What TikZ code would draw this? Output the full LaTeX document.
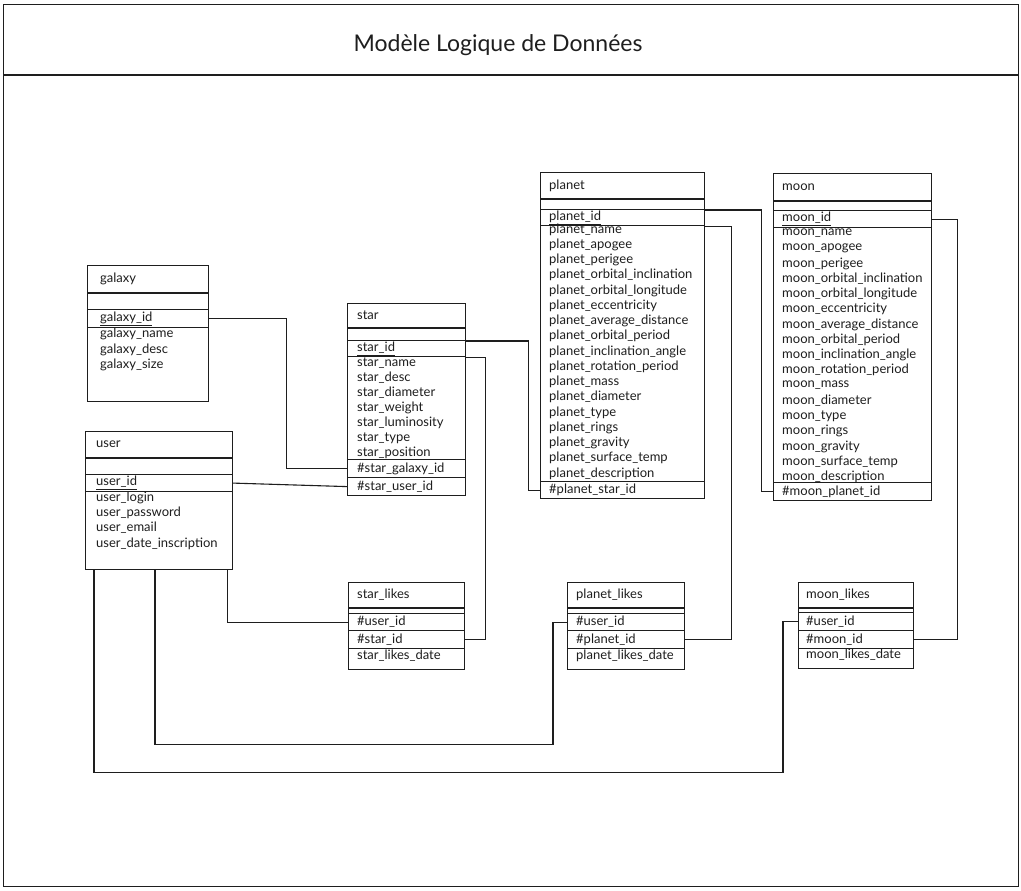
\documentclass[tikz,border=0pt]{standalone}
\usepackage{fontspec}
\setmainfont{Lato}
\begin{document}
\begin{tikzpicture}[x=1pt,y=-1pt]
\definecolor{ink}{HTML}{1E1E1E}
\tikzset{
  tblbox/.style={draw=ink, line width=1.4pt, inner sep=0pt, anchor=north west},
  keybox/.style={draw=ink, line width=1.2pt, inner sep=0pt, anchor=north west},
  hdrline/.style={draw=ink, line width=1.3pt},
  fieldtxt/.style={inner sep=0pt, anchor=west, text=ink, font=\fontsize{13}{14}\selectfont},
  link/.style={draw=ink, line width=1.1pt},
  frame/.style={draw=ink, line width=1.4pt},
}
% table body: name, x, y, width, height, header height, title
\newcommand\TableBox[7]{%
  \node[tblbox, minimum width=#4, minimum height=#5] (#1) at (#2,#3) {};
  \draw[hdrline] ([yshift=-#6]#1.north west) -- ([yshift=-#6]#1.north east);
  \node[fieldtxt] (#1-title) at ([xshift=\padx, yshift=-#6/2]#1.north west) {#7};}
% key row: name, x, y, width, height, text
\newcommand\KeyRow[6]{%
  \node[keybox, minimum width=#4, minimum height=#5] (#1) at (#2,#3) {};
  \node[fieldtxt] (#1-t) at ([xshift=\padx]#1.west) {#6};}

\useasboundingbox (0,0) rectangle (1021,891);
\fill[white] (0,0) rectangle (1021,891);

% page frame and title band
\node[frame, inner sep=0pt, anchor=north west, minimum width=1015, minimum height=882] (page) at (3,4) {};
\draw[frame] ([yshift=-71]page.north west) -- ([yshift=-71]page.north east);
\node[text=ink, font=\fontsize{23}{27}\selectfont] (title) at (498,45) {Modèle Logique de Données};

% galaxy
\def\padx{13pt}
\TableBox{galaxy}{87}{265}{121}{136}{28}{galaxy}
\KeyRow{gid}{87}{309}{121}{18}{\underline{galaxy\_id}}
\node[fieldtxt] (g1) at (100,334) {galaxy\_name};
\node[fieldtxt] (g2) at (100,350) {galaxy\_desc};
\node[fieldtxt] (g3) at (100,365) {galaxy\_size};

% user
\def\padx{11pt}
\TableBox{usr}{85}{431}{147}{138}{27}{user}
\KeyRow{uid}{85}{474}{147}{17}{\underline{user\_id}}
\node[fieldtxt] (u1) at (96,498) {user\_login};
\node[fieldtxt] (u2) at (96,513) {user\_password};
\node[fieldtxt] (u3) at (96,528) {user\_email};
\node[fieldtxt] (u4) at (96,544) {user\_date\_inscription};

% star
\def\padx{10pt}
\TableBox{star}{347}{303}{118}{192}{25}{star}
\KeyRow{sid}{347}{340}{118}{16}{\underline{star\_id}}
\foreach \f [count=\i] in {name,desc,diameter,weight,luminosity,type,position}
  \node[fieldtxt] (s\i) at (357,{363+15*(\i-1)}) {star\_\f};
\KeyRow{sgal}{347}{459}{118}{18}{\#star\_galaxy\_id}
\KeyRow{susr}{347}{477}{118}{18}{\#star\_user\_id}

% planet
\def\padx{9pt}
\TableBox{planet}{540}{172}{164}{326}{27}{planet}
\KeyRow{pid}{540}{209}{164}{16}{\underline{planet\_id}}
\foreach \f [count=\i] in {name,apogee,perigee,orbital\_inclination,orbital\_longitude,eccentricity,average\_distance,orbital\_period,inclination\_angle,rotation\_period,mass,diameter,type,rings,gravity,surface\_temp,description}
  \node[fieldtxt] (p\i) at (549,{229.5+15.25*(\i-1)}) {planet\_\f};
\KeyRow{pfk}{540}{481}{164}{17}{\#planet\_star\_id}

% moon
\def\padx{9pt}
\TableBox{moon}{773}{173}{158}{327}{28}{moon}
\KeyRow{mid}{773}{210}{158}{17}{\underline{moon\_id}}
\foreach \f [count=\i] in {name,apogee,perigee,orbital\_inclination,orbital\_longitude,eccentricity,average\_distance,orbital\_period,inclination\_angle,rotation\_period,mass,diameter,type,rings,gravity,surface\_temp,description}
  \node[fieldtxt] (m\i) at (782,{233+15.25*(\i-1)}) {moon\_\f};
\KeyRow{mfk}{773}{482}{158}{18}{\#moon\_planet\_id}

% star_likes
\def\padx{9pt}
\TableBox{sl}{348}{582}{116}{87}{26}{star\_likes}
\KeyRow{lsuser}{348}{613}{116}{17}{\#user\_id}
\KeyRow{lsstar}{348}{630}{116}{18}{\#star\_id}
\node[fieldtxt] (sl1) at (357,656) {star\_likes\_date};

% planet_likes
\TableBox{pl}{567}{582}{117}{87}{26}{planet\_likes}
\KeyRow{lpuser}{567}{613}{117}{17}{\#user\_id}
\KeyRow{lpplanet}{567}{630}{117}{18}{\#planet\_id}
\node[fieldtxt] (pl1) at (576,656) {planet\_likes\_date};

% moon_likes
\def\padx{8pt}
\TableBox{ml}{798}{582}{115}{86}{26}{moon\_likes}
\KeyRow{lmuser}{798}{612}{115}{18}{\#user\_id}
\KeyRow{lmmoon}{798}{630}{115}{18}{\#moon\_id}
\node[fieldtxt] (ml1) at (806,655) {moon\_likes\_date};

% foreign key links
\draw[link] (gid.east) -- ++(77,0) |- (sgal.west);
\draw[link] (uid.east) -- (susr.west);
\draw[link] ([yshift=-1pt]sid.north east) -- ++(62,0) |- (pfk.west);
\draw[link] (sid.south east) -- ++(19,0) |- (lsstar.east);
\draw[link] ([yshift=-1pt]pid.north east) -- ++(56,0) |- (mfk.west);
\draw[link] (pid.south east) -- ++(26,0) |- (lpplanet.east);
\draw[link] (mid.east) -- ++(25,0) |- (lmmoon.east);
\draw[link] ([xshift=-6pt]usr.south east) |- (lsuser.west);
\draw[link] ([xshift=70pt]usr.south west) -- ++(0,174) -| ([xshift=-14pt]lpuser.west) -- (lpuser.west);
\draw[link] ([xshift=9pt]usr.south west) -- ++(0,202) -| ([xshift=-15pt]lmuser.west) -- (lmuser.west);
\end{tikzpicture}
\end{document}
